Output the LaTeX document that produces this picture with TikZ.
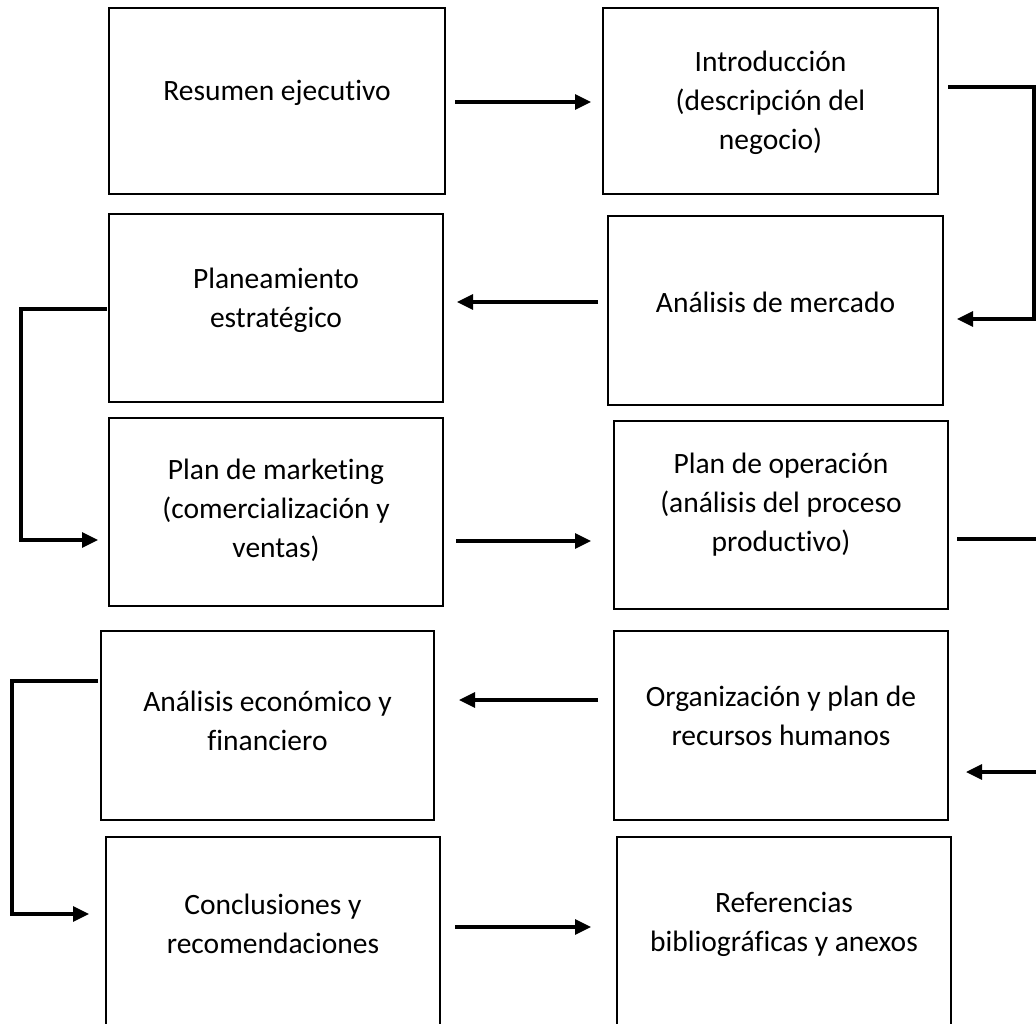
\documentclass[tikz,border=0pt]{standalone}
\usepackage{fontspec}
\setmainfont{Carlito}[Ligatures=NoCommon]
\usetikzlibrary{arrows.meta,calc}
\tikzset{
  box/.style={draw=black, line width=2pt, rectangle, inner sep=0pt},
  lbl/.style={align=center, inner sep=0pt, font=\fontsize{29.5}{39}\selectfont},
  arr/.style={draw=black, line width=3.2pt, -{Triangle[length=16pt,width=15pt]}},
  conn/.style={draw=black, line width=3.2pt}
}
\newcommand{\boxat}[5]{% name, left, top, right, bottom
  \node[box, minimum width={(#4-#2)*1pt}, minimum height={(#5-#3)*1pt}] (#1) at ({(#2+#4)/2},{(#3+#5)/2}) {};}
\begin{document}
\begin{tikzpicture}[x=1pt,y=-1pt]
\useasboundingbox (0,0) rectangle (1036,1023);
\clip (0,0) rectangle (1036,1023);
\fill[white] (0,0) rectangle (1036,1023);

% boxes
\boxat{b1}{109}{8}{445}{194}
\boxat{b2}{603}{8}{938}{194}
\boxat{b3}{109}{214}{443}{402}
\boxat{b4}{608}{216}{943}{405}
\boxat{b5}{109}{418}{443}{606}
\boxat{b6}{614}{421}{948}{609}
\boxat{b7}{101}{631}{434}{820}
\boxat{b8}{614}{631}{948}{820}
\boxat{b9}{106}{837}{440}{1060}
\boxat{b10}{617}{837}{951}{1060}

% texts
\node[lbl] (t1) at (b1.center |- 0,93) {Resumen ejecutivo};
\node[lbl] (t2) at (b2.center |- 0,103) {Introducción\\(descripción del\\negocio)};
\node[lbl] (t3) at (b3.center |- 0,300) {Planeamiento\\estratégico};
\node[lbl] (t4) at (b4.center |- 0,302) {Análisis de mercado};
\node[lbl] (t5) at (b5.center |- 0,510) {Plan de marketing\\(comercialización y\\ventas)};
\node[lbl] (t6) at (b6.center |- 0,505) {Plan de operación\\(análisis del proceso\\productivo)};
\node[lbl] (t7) at (b7.center |- 0,721) {Análisis económico y\\financiero};
\node[lbl] (t8) at (b8.center |- 0,716) {Organización y plan de\\recursos humanos};
\node[lbl] (t9) at (b9.center |- 0,924) {Conclusiones y\\recomendaciones};
\node[lbl] (t10) at (b10.center |- 0,924) {Referencias\\bibliográficas y anexos};

% connector ends
\coordinate (a1s) at (455,102);  \coordinate (a1e) at (591,102);
\coordinate (a2s) at (948,87);   \coordinate (a2e) at (957,319);
\coordinate (a3s) at (598,302);  \coordinate (a3e) at (457,302);
\coordinate (a4s) at (107,309);  \coordinate (a4e) at (98,540);
\coordinate (a5s) at (456,541);  \coordinate (a5e) at (591,541);
\coordinate (a6s) at (957,539);  \coordinate (a6e) at (966,772);
\coordinate (a7s) at (598,700);  \coordinate (a7e) at (459,700);
\coordinate (a8s) at (98,681);   \coordinate (a8e) at (89,914);
\coordinate (a9s) at (455,927);  \coordinate (a9e) at (591,927);

\draw[arr] (a1s) -- (a1e);
\draw[arr] (a2s) -- (1034,87) |- (a2e);
\draw[arr] (a3s) -- (a3e);
\draw[arr] (a4s) -- (21,309) |- (a4e);
\draw[arr] (a5s) -- (a5e);
\draw[arr] (a6s) -- (1050,539) |- (a6e);
\draw[arr] (a7s) -- (a7e);
\draw[arr] (a8s) -- (12,681) |- (a8e);
\draw[arr] (a9s) -- (a9e);
\end{tikzpicture}
\end{document}
